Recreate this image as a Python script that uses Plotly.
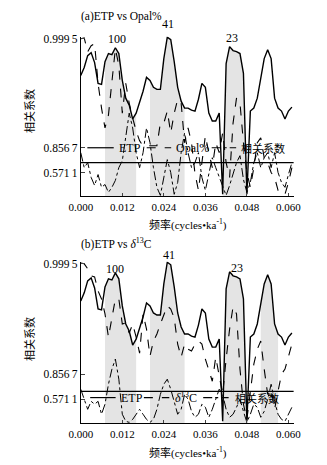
import numpy as np
import plotly.graph_objects as go

# Frequency grid (cycles/ka) and spectra
freq = np.round(np.arange(62) * 0.001, 3)

etp = [76.7, 81.8, 89.3, 91.2, 84.9, 71.7, 71.1, 85.5, 90.6, 89.9,
       94.3, 90.6, 73.6, 62.3, 57.9, 49.1, 52.8, 59.1, 66.7, 75.5,
       73.6, 69.2, 67.9, 67.9, 87.4, 101.0, 99.4, 85.5, 69.2, 60.4,
       56.0, 56.0, 54.7, 54.1, 61.6, 71.7, 69.2, 52.8, 47.8, 47.8,
       52.8, 1.3, 84.3, 95.0, 92.5, 91.8, 90.6, 78.0, 1.3, 54.1,
       56.0, 62.3, 74.8, 87.4, 93.1, 87.4, 62.3, 56.0, 54.1, 49.1,
       54.1, 56.6]

opal = [100.0, 100.5, 91.8, 95.6, 96.9, 71.7, 56.0, 43.4, 51.6, 74.9,
        93.7, 83.0, 52.8, 71.7, 59.1, 49.7, 41.5, 35.2, 32.1, 32.1,
        32.1, 32.1, 32.1, 46.5, 46.5, 54.1, 40.3, 52.8, 61.6, 59.1,
        34.0, 43.4, 34.0, 14.5, 3.8, 21.4, 38.4, 27.7, 18.2, 34.0,
        27.7, 40.3, 21.4, 12.0, 46.5, 62.3, 59.1, 34.0, 15.1, 5.7,
        18.2, 34.0, 37.1, 24.5, 21.4, 15.1, 12.0, 3.8, 1.3, 1.3,
        8.8, 18.2]

coh_a = [27.7, 18.2, 21.4, 12.0, 6.9, 13.8, 5.7, 7.5, 2.5, 5.7,
         10.1, 18.2, 22.6, 37.1, 52.8, 43.4, 27.7, 18.2, 27.7, 43.4,
         34.0, 18.2, 5.7, 0.6, 12.0, 23.3, 15.1, 1.3, 8.8, 27.7,
         40.3, 27.7, 18.2, 21.4, 27.7, 12.0, 3.8, 15.1, 24.5, 18.2,
         12.0, 5.7, 0.6, 6.9, 13.8, 21.4, 25.8, 10.7, 2.5, 8.8,
         21.4, 27.7, 18.2, 24.5, 27.7, 18.2, 27.7, 15.1, 8.8, 5.7,
         13.8, 21.4]

d13c = [100.5, 100.0, 96.9, 92.5, 91.8, 83.0, 78.0, 68.6, 54.1, 66.7,
        78.0, 78.0, 62.3, 62.9, 56.6, 62.3, 54.1, 44.0, 68.6, 59.1,
        42.1, 51.6, 56.0, 62.3, 68.6, 73.6, 71.7, 66.0, 49.7, 41.5,
        49.7, 46.5, 45.3, 49.7, 51.6, 49.7, 40.3, 34.0, 26.4, 41.5,
        30.8, 18.2, 40.3, 59.1, 73.0, 68.6, 34.0, 12.0, 2.5, 21.4,
        37.1, 46.5, 51.6, 34.0, 18.2, 21.4, 8.8, 20.1, 30.8, 34.0,
        41.5, 49.7]

coh_b = [21.4, 15.1, 8.8, 13.8, 12.0, 13.8, 5.7, 12.0, 24.5, 34.0,
         40.3, 27.7, 5.7, 1.3, 0.6, 2.5, 5.7, 8.8, 5.7, 2.5,
         0.6, 2.5, 8.8, 18.2, 24.5, 27.7, 21.4, 13.8, 5.7, 8.8,
         18.2, 15.1, 7.5, 3.8, 5.7, 12.0, 10.1, 3.8, 8.8, 15.1,
         21.4, 18.2, 8.8, 3.8, 5.7, 10.1, 15.1, 7.5, 0.6, 5.7,
         12.0, 10.1, 3.8, 7.5, 15.1, 24.5, 13.8, 5.7, 2.5, 1.3,
         5.7, 10.1]

# Coherent bands (shaded) and confidence line
bands_a = [(0.007, 0.016), (0.020, 0.030), (0.041, 0.048)]
bands_b = [(0.007, 0.016), (0.020, 0.030), (0.041, 0.048), (0.052, 0.057)]
conf_a = 21.4
conf_b = 20.1

# Axis ticks
x_ticks = [0.000, 0.012, 0.024, 0.036, 0.048, 0.060]
x_labels = ["0.000", "0.012", "0.024", "0.036", "0.048", "0.060"]
y_ticks = [15.1, 30.8, 100]
y_labels = ["0.571\u20091", "0.856\u20097", "0.999\u20095"]

# Peak labels (period in ka) at their frequency
peak_text = ["100", "41", "23"]
peak_freq_a = [0.0106, 0.0252, 0.0438]
peak_freq_b = [0.0100, 0.0255, 0.0450]

SERIF = "Liberation Serif, Times New Roman, serif"
CJK = "Noto Sans CJK SC, sans-serif"
fill_col = "rgba(190,190,190,0.42)"
W, H = 327, 465

fig = go.Figure()


def add_panel(xa, ya, other, coh, bands):
  # shaded coherent bands under the ETP curve
  for lo, hi in bands:
    idx = [i for i, f in enumerate(freq) if lo - 1e-9 <= f <= hi + 1e-9]
    fig.add_trace(go.Scatter(
      x=[freq[i] for i in idx], y=[etp[i] for i in idx],
      xaxis=xa, yaxis=ya, mode="lines", line=dict(width=0),
      fill="tozeroy", fillcolor=fill_col, hoverinfo="skip"))
  fig.add_trace(go.Scatter(x=freq, y=etp, xaxis=xa, yaxis=ya, mode="lines",
                           line=dict(color="black", width=1.4)))
  fig.add_trace(go.Scatter(x=freq, y=other, xaxis=xa, yaxis=ya, mode="lines",
                           line=dict(color="black", width=1.1, dash="dash")))
  fig.add_trace(go.Scatter(x=freq, y=coh, xaxis=xa, yaxis=ya, mode="lines",
                           line=dict(color="black", width=1, dash="dashdot")))


add_panel("x", "y", opal, coh_a, bands_a)
add_panel("x2", "y2", d13c, coh_b, bands_b)

# Confidence lines
for xa, ya, c in [("x", "y", conf_a), ("x2", "y2", conf_b)]:
  fig.add_shape(type="line", xref=xa + " domain", yref=ya,
                x0=0, x1=1, y0=c, y1=c, line=dict(color="black", width=1.2))


def txt(text, px, py, size=12, family=SERIF, anchor="left", **kw):
  return dict(text=text, x=px / W, y=1 - py / H, xref="paper", yref="paper",
              xanchor=anchor, yanchor="middle", showarrow=False,
              font=dict(family=family, size=size, color="black"), **kw)


annotations = [
  txt("(a)ETP vs Opal%", 71, 13, size=11.5),
  txt("(b)ETP vs <i>δ</i><sup>13</sup>C", 71, 242, size=11.5),
  txt("相关系数", 18, 108, size=11, family=CJK, anchor="center", textangle=-90),
  txt("相关系数", 18, 338, size=11, family=CJK, anchor="center", textangle=-90),
]
for py in [222, 452]:
  annotations.append(txt("频率<span style='font-family:Liberation Serif'>(cycles\u2022ka<sup>-1</sup>)</span>",
                         187, py, size=11, family=CJK, anchor="center"))

# Peak labels: x in data, y in paper
for xa, freqs, pys in [("x", peak_freq_a, [35, 20, 34]), ("x2", peak_freq_b, [267, 253, 266])]:
  for text, f, py in zip(peak_text, freqs, pys):
    annotations.append(dict(text=text, x=f, y=1 - py / H, xref=xa, yref="paper",
                            showarrow=False, yanchor="middle",
                            font=dict(family=SERIF, size=12, color="black")))

# Hand-placed legends inside each panel
legend_rows = [
  (145, [("solid", 80, 108, "ETP", 112, SERIF),
         ("dash", 143, 169, "Opal%", 172, SERIF),
         ("dashdot", 212, 238, "相关系数", 241, CJK)]),
  (397, [("solid", 83, 110, "ETP", 114, SERIF),
         ("dash", 140, 167, "<i>δ</i><sup>13</sup>C", 171, SERIF),
         ("dashdot", 203, 230, "相关系数", 235, CJK)]),
]
for py, items in legend_rows:
  for dash, x0, x1, label, tx, fam in items:
    fig.add_shape(type="line", xref="paper", yref="paper",
                  x0=x0 / W, x1=x1 / W, y0=1 - py / H, y1=1 - py / H,
                  line=dict(color="black", width=1.2, dash=dash))
    annotations.append(txt(label, tx, py, size=12 if fam == SERIF else 11, family=fam))

xdom = [73 / W, 299 / W]
axis_x = dict(range=[0, 0.0615], tickvals=x_ticks, ticktext=x_labels,
              ticks="inside", ticklen=3, showline=True, linecolor="black",
              linewidth=1, showgrid=False, zeroline=False,
              tickfont=dict(family=SERIF, size=11, color="black"))
axis_y = dict(range=[0, 101.3], tickvals=y_ticks, ticktext=y_labels,
              ticks="inside", ticklen=4, showline=True, linecolor="black",
              linewidth=1, showgrid=False, zeroline=False,
              tickfont=dict(family=SERIF, size=11.5, color="black"))

fig.update_layout(
  width=W, height=H,
  margin=dict(l=0, r=0, t=0, b=0),
  paper_bgcolor="white", plot_bgcolor="white",
  showlegend=False,
  xaxis=dict(domain=xdom, anchor="y", **axis_x),
  yaxis=dict(domain=[1 - 194 / H, 1 - 33 / H], anchor="x", **axis_y),
  xaxis2=dict(domain=xdom, anchor="y2", **axis_x),
  yaxis2=dict(domain=[1 - 423 / H, 1 - 260 / H], anchor="x2", **axis_y),
  annotations=annotations,
)

# Remove the default page margin so the figure sits at the window's corner
fig.write_html("out.html", config={"displayModeBar": False},
               post_script="document.body.style.margin='0';document.body.style.overflow='hidden';")
